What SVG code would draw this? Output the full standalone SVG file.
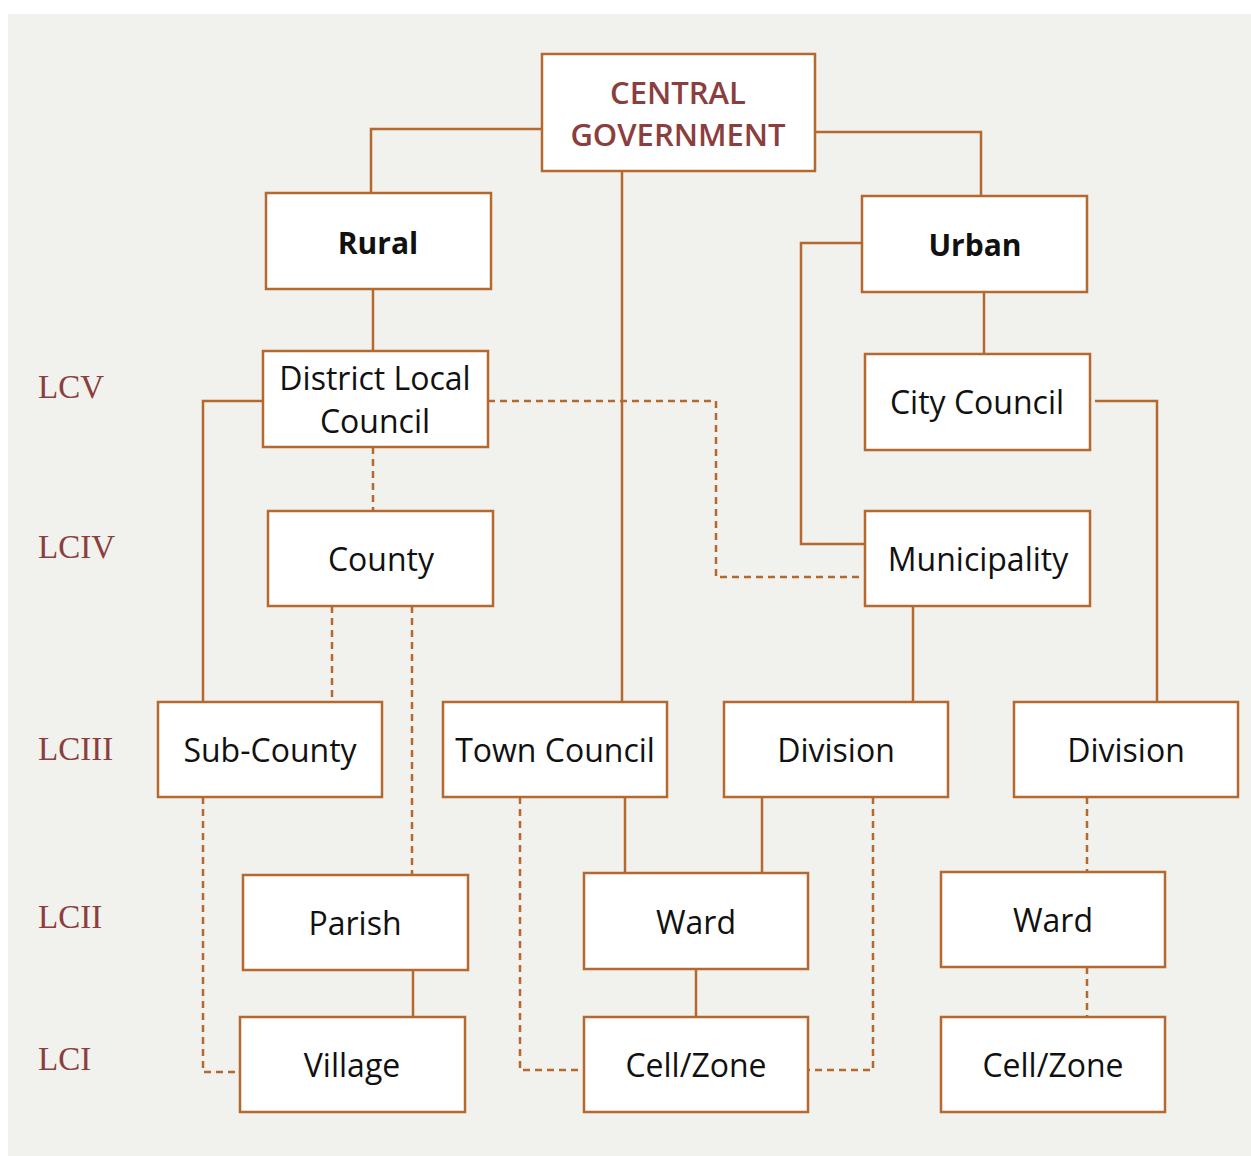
<svg xmlns="http://www.w3.org/2000/svg" width="1251" height="1156" viewBox="0 0 1251 1156">
<style>
.box{fill:#fff;stroke:#b5692f;stroke-width:2.5}
.t{font-family:"Open Sans","Noto Sans",sans-serif;font-size:32px;fill:#111;text-anchor:middle}
.b{font-weight:bold;font-size:30px}
.cg{fill:#8b3e3e;font-weight:600;font-size:31px}
.lvl{font-family:"Liberation Serif",serif;font-size:33px;fill:#8b3e3e}
.c{fill:none;stroke:#b5692f;stroke-width:2.5}
.d{stroke-dasharray:7 5}
</style>
<rect x="8" y="14" width="1243" height="1142" fill="#f1f1ed"/>
<g id="levels">
<text class="lvl" x="38" y="398">LCV</text>
<text class="lvl" x="38" y="558">LCIV</text>
<text class="lvl" x="38" y="760">LCIII</text>
<text class="lvl" x="38" y="928">LCII</text>
<text class="lvl" x="38" y="1070">LCI</text>
</g>
<g id="connectors">
<path class="c" d="M542 129H371V193"/>
<path class="c" d="M815 132H981V196"/>
<path class="c" d="M622 171V702"/>
<path class="c" d="M373 289V351"/>
<path class="c" d="M984 292V354"/>
<path class="c" d="M862 243H801V544H865"/>
<path class="c" d="M263 401H203V702"/>
<path class="c" d="M1095 401H1157V702"/>
<path class="c" d="M913 606V702"/>
<path class="c" d="M625 797V873"/>
<path class="c" d="M762 797V873"/>
<path class="c" d="M413 970V1017"/>
<path class="c" d="M696 969V1017"/>
<path class="c d" d="M488 401H716V577H865"/>
<path class="c d" d="M373 447V511"/>
<path class="c d" d="M332 606V702"/>
<path class="c d" d="M412 606V875"/>
<path class="c d" d="M203 797V1072H240"/>
<path class="c d" d="M520 797V1070H584"/>
<path class="c d" d="M873 797V1070H808"/>
<path class="c d" d="M1087 797V872"/>
<path class="c d" d="M1087 967V1017"/>
</g>
<g id="central"><rect class="box" x="542" y="54" width="273" height="117"/><text class="t cg" x="678" y="104">CENTRAL</text><text class="t cg" x="678" y="146">GOVERNMENT</text></g>
<g id="rural"><rect class="box" x="266" y="193" width="225" height="96"/><text class="t b" x="378" y="254">Rural</text></g>
<g id="urban"><rect class="box" x="862" y="196" width="225" height="96"/><text class="t b" x="975" y="256">Urban</text></g>
<g id="district"><rect class="box" x="263" y="351" width="225" height="96"/><text class="t" x="375" y="390">District Local</text><text class="t" x="375" y="433">Council</text></g>
<g id="city"><rect class="box" x="865" y="354" width="225" height="96"/><text class="t" x="977" y="414">City Council</text></g>
<g id="county"><rect class="box" x="268" y="511" width="225" height="95"/><text class="t" x="381" y="571">County</text></g>
<g id="municipality"><rect class="box" x="865" y="511" width="225" height="95"/><text class="t" x="978" y="571">Municipality</text></g>
<g id="subcounty"><rect class="box" x="158" y="702" width="224" height="95"/><text class="t" x="270" y="762">Sub-County</text></g>
<g id="towncouncil"><rect class="box" x="443" y="702" width="224" height="95"/><text class="t" x="555" y="762">Town Council</text></g>
<g id="division1"><rect class="box" x="724" y="702" width="224" height="95"/><text class="t" x="836" y="762">Division</text></g>
<g id="division2"><rect class="box" x="1014" y="702" width="224" height="95"/><text class="t" x="1126" y="762">Division</text></g>
<g id="parish"><rect class="box" x="243" y="875" width="225" height="95"/><text class="t" x="355" y="935">Parish</text></g>
<g id="ward1"><rect class="box" x="584" y="873" width="224" height="96"/><text class="t" x="696" y="934">Ward</text></g>
<g id="ward2"><rect class="box" x="941" y="872" width="224" height="95"/><text class="t" x="1053" y="932">Ward</text></g>
<g id="village"><rect class="box" x="240" y="1017" width="225" height="95"/><text class="t" x="352" y="1077">Village</text></g>
<g id="cell1"><rect class="box" x="584" y="1017" width="224" height="95"/><text class="t" x="696" y="1077">Cell/Zone</text></g>
<g id="cell2"><rect class="box" x="941" y="1017" width="224" height="95"/><text class="t" x="1053" y="1077">Cell/Zone</text></g>
</svg>
